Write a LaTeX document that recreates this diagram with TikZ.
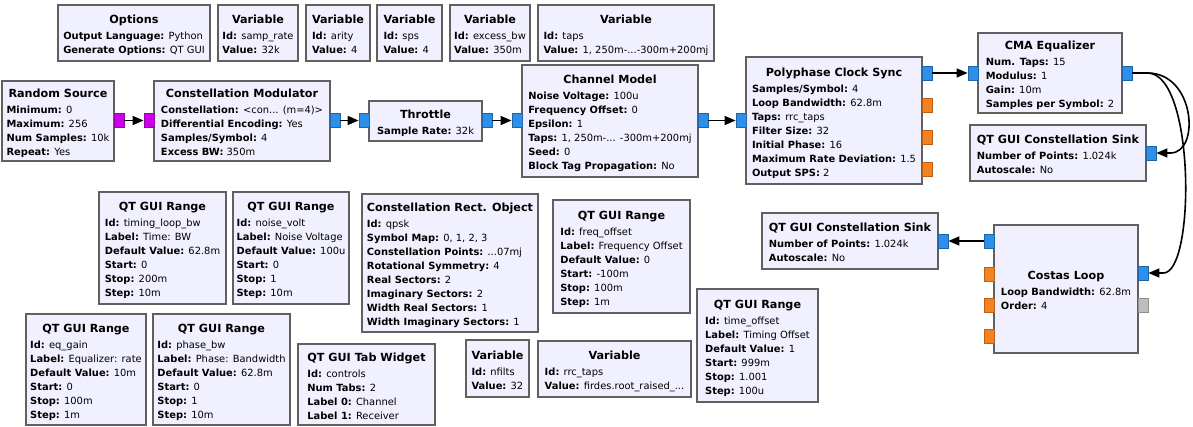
\documentclass[tikz,border=0pt]{standalone}
\usepackage{fontspec}
\setmainfont{DejaVu Sans}
\usepackage{xcolor}
\usetikzlibrary{arrows.meta}

\definecolor{blockfill}{HTML}{F0F0FE}
\definecolor{blockline}{HTML}{606060}
\definecolor{cplx}{HTML}{2C8FEA}
\definecolor{flt}{HTML}{F5821F}
\definecolor{byt}{HTML}{CC00E8}
\definecolor{msg}{HTML}{BDBDBD}

% block label: centred title, then left aligned parameters
\newcommand{\blk}[2]{\raisebox{-3pt}[\height][\depth]{\begin{tabular}{@{}l@{}}\multicolumn{1}{@{}c@{}}{\fontsize{11.2}{14}\selectfont\bfseries #1}\\[2pt] #2\end{tabular}}}
\newcommand{\prm}[2]{\textbf{#1:} #2\\}

\tikzset{
    block/.style={rectangle,draw=blockline,fill=blockfill,line width=1.8pt,inner sep=0pt,font=\fontsize{9.9}{14}\selectfont},
    port/.style={rectangle,inner sep=0pt,minimum width=10pt,minimum height=14pt,line width=0.8pt},
    cport/.style={port,fill=cplx,draw=cplx!70!black},
    fport/.style={port,fill=flt,draw=flt!75!black},
    bport/.style={port,fill=byt,draw=byt!75!black},
    mport/.style={port,fill=msg,draw=msg!75!black},
    conn/.style={line width=1.6pt,-{Triangle[length=11pt,width=9pt]}}
}

\begin{document}
\begin{tikzpicture}[x=1pt,y=-1pt]
    \fill[white] (0,0) rectangle (1193,427);
    \useasboundingbox (0,0) rectangle (1193,427);

    % variables and options
    \node[block,minimum width=152,minimum height=56] (opts) at (134,33)
        {\blk{Options}{\prm{Output Language}{Python}\prm{Generate Options}{QT GUI}}};
    \node[block,minimum width=80,minimum height=56] (samprate) at (258,33)
        {\blk{Variable}{\prm{Id}{samp\_rate}\prm{Value}{32k}}};
    \node[block,minimum width=64,minimum height=56] (arity) at (338,33)
        {\blk{Variable}{\prm{Id}{arity}\prm{Value}{4}}};
    \node[block,minimum width=65,minimum height=56] (sps) at (409.5,33)
        {\blk{Variable}{\prm{Id}{sps}\prm{Value}{4}}};
    \node[block,minimum width=80,minimum height=56] (excessbw) at (490,33)
        {\blk{Variable}{\prm{Id}{excess\_bw}\prm{Value}{350m}}};
    \node[block,minimum width=176,minimum height=56] (taps) at (626,33)
        {\blk{Variable}{\prm{Id}{taps}\prm{Value}{1, 250m-...-300m+200mj}}};

    % signal chain
    \node[block,minimum width=112,minimum height=80] (rsrc) at (58,121)
        {\blk{Random Source}{\prm{Minimum}{0}\prm{Maximum}{256}\prm{Num Samples}{10k}\prm{Repeat}{Yes}}};
    \node[block,minimum width=176,minimum height=80] (cmod) at (242,121)
        {\blk{Constellation Modulator}{\prm{Constellation}{<con... (m=4)>}\prm{Differential Encoding}{Yes}\prm{Samples/Symbol}{4}\prm{Excess BW}{350m}}};
    \node[block,minimum width=113,minimum height=40] (thr) at (425.5,121)
        {\blk{Throttle}{\prm{Sample Rate}{32k}}};
    \node[block,minimum width=176,minimum height=112] (chan) at (610,121)
        {\blk{Channel Model}{\prm{Noise Voltage}{100u}\prm{Frequency Offset}{0}\prm{Epsilon}{1}\prm{Taps}{1, 250m-... -300m+200mj}\prm{Seed}{0}\prm{Block Tag Propagation}{No}}};
    \node[block,minimum width=176,minimum height=127] (pfb) at (834,120.5)
        {\blk{Polyphase Clock Sync}{\prm{Samples/Symbol}{4}\prm{Loop Bandwidth}{62.8m}\prm{Taps}{rrc\_taps}\prm{Filter Size}{32}\prm{Initial Phase}{16}\prm{Maximum Rate Deviation}{1.5}\prm{Output SPS}{2}}};
    \node[block,minimum width=144,minimum height=80] (cma) at (1050,73)
        {\blk{CMA Equalizer}{\prm{Num. Taps}{15}\prm{Modulus}{1}\prm{Gain}{10m}\prm{Samples per Symbol}{2}}};
    \node[block,minimum width=176,minimum height=56] (csA) at (1058,153)
        {\blk{QT GUI Constellation Sink}{\prm{Number of Points}{1.024k}\prm{Autoscale}{No}}};
    \node[block,minimum width=176,minimum height=56] (csB) at (850,241)
        {\blk{QT GUI Constellation Sink}{\prm{Number of Points}{1.024k}\prm{Autoscale}{No}}};
    \node[block,minimum width=144,minimum height=128] (costas) at (1066,289)
        {\blk{Costas Loop}{\prm{Loop Bandwidth}{62.8m}\prm{Order}{4}}};

    % gui controls
    \node[block,minimum width=127,minimum height=112] (rngtime) at (162.5,248)
        {\blk{QT GUI Range}{\prm{Id}{timing\_loop\_bw}\prm{Label}{Time: BW}\prm{Default Value}{62.8m}\prm{Start}{0}\prm{Stop}{200m}\prm{Step}{10m}}};
    \node[block,minimum width=116,minimum height=112] (rngnoise) at (291,248)
        {\blk{QT GUI Range}{\prm{Id}{noise\_volt}\prm{Label}{Noise Voltage}\prm{Default Value}{100u}\prm{Start}{0}\prm{Stop}{1}\prm{Step}{10m}}};
    \node[block,minimum width=176,minimum height=138] (qpsk) at (450,263)
        {\blk{Constellation Rect. Object}{\prm{Id}{qpsk}\prm{Symbol Map}{0, 1, 2, 3}\prm{Constellation Points}{...07mj}\prm{Rotational Symmetry}{4}\prm{Real Sectors}{2}\prm{Imaginary Sectors}{2}\prm{Width Real Sectors}{1}\prm{Width Imaginary Sectors}{1}}};
    \node[block,minimum width=137,minimum height=113] (rngfreq) at (621.5,256.5)
        {\blk{QT GUI Range}{\prm{Id}{freq\_offset}\prm{Label}{Frequency Offset}\prm{Default Value}{0}\prm{Start}{-100m}\prm{Stop}{100m}\prm{Step}{1m}}};
    \node[block,minimum width=121,minimum height=113] (rngtoff) at (757.5,345.5)
        {\blk{QT GUI Range}{\prm{Id}{time\_offset}\prm{Label}{Timing Offset}\prm{Default Value}{1}\prm{Start}{999m}\prm{Stop}{1.001}\prm{Step}{100u}}};
    \node[block,minimum width=120,minimum height=111] (rngeq) at (86,369.5)
        {\blk{QT GUI Range}{\prm{Id}{eq\_gain}\prm{Label}{Equalizer: rate}\prm{Default Value}{10m}\prm{Start}{0}\prm{Stop}{100m}\prm{Step}{1m}}};
    \node[block,minimum width=137,minimum height=111] (rngphase) at (221.5,369.5)
        {\blk{QT GUI Range}{\prm{Id}{phase\_bw}\prm{Label}{Phase: Bandwidth}\prm{Default Value}{62.8m}\prm{Start}{0}\prm{Stop}{1}\prm{Step}{10m}}};
    \node[block,minimum width=137,minimum height=81] (tabs) at (366.5,384.5)
        {\blk{QT GUI Tab Widget}{\prm{Id}{controls}\prm{Num Tabs}{2}\prm{Label 0}{Channel}\prm{Label 1}{Receiver}}};
    \node[block,minimum width=63,minimum height=57] (nfilts) at (497.5,368.5)
        {\blk{Variable}{\prm{Id}{nfilts}\prm{Value}{32}}};
    \node[block,minimum width=153,minimum height=56] (rrctaps) at (614.5,369)
        {\blk{Variable}{\prm{Id}{rrc\_taps}\prm{Value}{firdes.root\_raised\_...}}};

    % ports
    \node[bport] (rsrcout) at (119,120.5) {};
    \node[bport] (cmodin) at (149,120.5) {};
    \node[cport] (cmodout) at (335,120.5) {};
    \node[cport] (thrin) at (364,120.5) {};
    \node[cport] (throut) at (487,120.5) {};
    \node[cport] (chanin) at (517,120.5) {};
    \node[cport] (chanout) at (703,120.5) {};
    \node[cport] (pfbin) at (741,120.5) {};
    \node[cport] (pfbout) at (927,73) {};
    \node[fport] (pfbf1) at (927,105) {};
    \node[fport] (pfbf2) at (927,137) {};
    \node[fport] (pfbf3) at (927,169.5) {};
    \node[cport] (cmain) at (973,73) {};
    \node[cport] (cmaout) at (1127,73) {};
    \node[cport] (csAin) at (1151,153) {};
    \node[cport] (csBin) at (943,241) {};
    \node[cport] (costin) at (1143,273) {};
    \node[cport] (costout) at (989,241) {};
    \node[fport] (costf1) at (989,274) {};
    \node[fport] (costf2) at (989,305) {};
    \node[fport] (costf3) at (989,336.5) {};
    \node[mport] (costmsg) at (1143,305) {};

    % connections
    \draw[conn] (rsrcout) -- (cmodin);
    \draw[conn] (cmodout) -- (thrin);
    \draw[conn] (throut) -- (chanin);
    \draw[conn] (chanout) -- (pfbin);
    \draw[conn] (pfbout) -- (cmain);
    \draw[conn] (costout) -- (csBin);
    \draw[conn] (cmaout.east) -- ++(15,0) .. controls ([xshift=63pt]cmaout.east) and ([xshift=44pt]csAin.east) .. ([xshift=14pt]csAin.east) -- (csAin.east);
    \draw[conn] (cmaout.east) -- ++(15,0) .. controls ([xshift=63pt]cmaout.east) and ([xshift=47pt]costin.east) .. ([xshift=15pt]costin.east) -- (costin.east);
\end{tikzpicture}
\end{document}
